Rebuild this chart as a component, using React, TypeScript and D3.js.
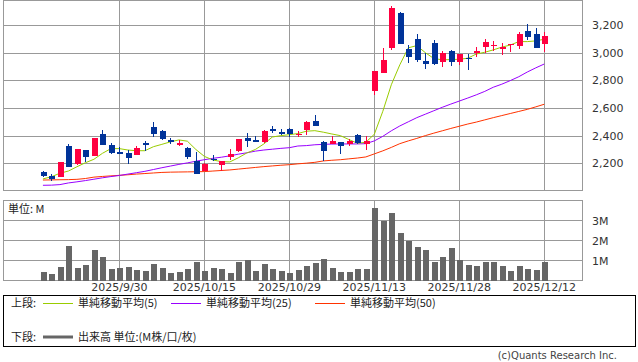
import * as d3 from "d3";

const dates = [
  "2025/9/16", "2025/9/17", "2025/9/18", "2025/9/19", "2025/9/22", "2025/9/24", "2025/9/25", "2025/9/26", "2025/9/29", "2025/9/30",
  "2025/10/1", "2025/10/2", "2025/10/3", "2025/10/6", "2025/10/7", "2025/10/8", "2025/10/9", "2025/10/10", "2025/10/14", "2025/10/15",
  "2025/10/16", "2025/10/17", "2025/10/20", "2025/10/21", "2025/10/22", "2025/10/23", "2025/10/24", "2025/10/27", "2025/10/28", "2025/10/29",
  "2025/10/30", "2025/10/31", "2025/11/4", "2025/11/5", "2025/11/6", "2025/11/7", "2025/11/10", "2025/11/11", "2025/11/12", "2025/11/13",
  "2025/11/14", "2025/11/17", "2025/11/18", "2025/11/19", "2025/11/20", "2025/11/21", "2025/11/25", "2025/11/26", "2025/11/27", "2025/11/28",
  "2025/12/1", "2025/12/2", "2025/12/3", "2025/12/4", "2025/12/5", "2025/12/8", "2025/12/9", "2025/12/10", "2025/12/11", "2025/12/12",
];

const open = [
  2137, 2106, 2103, 2325, 2192, 2296, 2255, 2412, 2335, 2284,
  2275, 2262, 2345, 2465, 2436, 2371, 2330, 2311, 2214, 2144,
  2233, 2187, 2248, 2291, 2385, 2371, 2357, 2451, 2426, 2448,
  2405, 2443, 2506, 2354, 2340, 2354, 2342, 2403, 2340, 2725,
  2853, 3032, 3289, 3029, 3099, 2940, 3070, 2935, 3012, 2935,
  2959, 2998, 3043, 3053, 3024, 3058, 3050, 3157, 3137, 3065,
];
const high = [
  2147, 2121, 2212, 2342, 2305, 2298, 2385, 2441, 2345, 2320,
  2298, 2323, 2360, 2499, 2441, 2385, 2369, 2320, 2282, 2199,
  2262, 2218, 2303, 2378, 2419, 2400, 2441, 2470, 2446, 2457,
  2434, 2508, 2549, 2359, 2397, 2356, 2374, 2410, 2395, 2869,
  3032, 3337, 3295, 3055, 3137, 3000, 3092, 3010, 3019, 2992,
  2990, 3041, 3099, 3087, 3070, 3065, 3149, 3207, 3178, 3149,
];
const low = [
  2101, 2070, 2098, 2171, 2190, 2207, 2250, 2333, 2265, 2265,
  2195, 2260, 2287, 2390, 2372, 2342, 2325, 2233, 2123, 2142,
  2214, 2144, 2224, 2283, 2320, 2355, 2345, 2422, 2407, 2390,
  2393, 2407, 2470, 2217, 2338, 2267, 2325, 2343, 2296, 2696,
  2850, 3019, 3063, 2923, 2930, 2884, 2913, 2899, 2906, 2913,
  2877, 2971, 3000, 3010, 2985, 3007, 3029, 3094, 3036, 3007,
];
const close = [
  2110, 2084, 2207, 2175, 2303, 2248, 2383, 2335, 2272, 2270,
  2238, 2313, 2330, 2412, 2374, 2352, 2347, 2248, 2125, 2197,
  2222, 2214, 2267, 2376, 2364, 2357, 2434, 2434, 2414, 2414,
  2412, 2499, 2472, 2291, 2361, 2327, 2361, 2345, 2359, 2867,
  2947, 3323, 3065, 2971, 2947, 2920, 2920, 2998, 2935, 2990,
  2952, 3012, 3077, 3058, 3041, 3065, 3137, 3116, 3036, 3120,
];

const ma5 = [
  2087, 2103, 2128, 2144, 2175, 2204, 2229, 2272, 2306, 2306,
  2296, 2291, 2291, 2320, 2337, 2355, 2369, 2360, 2300, 2250,
  2224, 2212, 2210, 2240, 2275, 2300, 2340, 2390, 2400, 2407,
  2415, 2432, 2436, 2425, 2412, 2400, 2372, 2345, 2352, 2410,
  2576, 2768, 2912, 3035, 3051, 3000, 2958, 2948, 2950, 2952,
  2960, 2990, 3003, 3020, 3040, 3055, 3080, 3080, 3085, 3097,
];
const ma25 = [
  2041, 2042, 2046, 2058, 2066, 2075, 2085, 2095, 2104, 2112,
  2122, 2132, 2142, 2155, 2168, 2180, 2192, 2203, 2215, 2226,
  2236, 2244, 2254, 2266, 2276, 2288, 2296, 2302, 2308, 2313,
  2325, 2328, 2334, 2337, 2339, 2340, 2340, 2340, 2342, 2362,
  2395, 2435, 2470, 2500, 2530, 2555, 2580, 2605, 2628, 2650,
  2672, 2695, 2720, 2750, 2772, 2798, 2826, 2860, 2890, 2918,
];
const ma50 = [
  2079, 2080, 2081, 2082, 2084, 2090, 2100, 2105, 2109, 2113,
  2117, 2122, 2126, 2130, 2134, 2136, 2137, 2138, 2139, 2140,
  2144, 2148, 2152, 2158, 2164, 2170, 2176, 2181, 2186, 2190,
  2196, 2201, 2207, 2217, 2222, 2226, 2232, 2238, 2246, 2268,
  2290, 2315, 2342, 2362, 2380, 2400, 2418, 2435, 2452, 2468,
  2484, 2498, 2514, 2530, 2545, 2560, 2575, 2590, 2608, 2627,
];

// volume in millions
const volume = [
  0.45, 0.35, 0.7, 1.75, 0.65, 0.8, 1.55, 1.2, 0.6, 0.65,
  0.7, 0.55, 0.5, 0.85, 0.65, 0.4, 0.45, 0.6, 0.95, 0.5,
  0.65, 0.6, 0.4, 0.95, 1.05, 0.5, 0.85, 0.6, 0.5, 0.4,
  0.55, 0.75, 0.9, 1.1, 0.65, 0.45, 0.45, 0.6, 0.6, 3.65,
  2.97, 3.4, 2.4, 1.97, 1.7, 1.55, 0.95, 1.2, 1.65, 1.05,
  0.8, 0.75, 0.95, 0.95, 0.75, 0.5, 0.75, 0.6, 0.55, 0.95,
];

const priceTicks = [2200, 2400, 2600, 2800, 3000, 3200];
const volumeTicks = [1, 2, 3];
const dateTicks = ["2025/9/30", "2025/10/15", "2025/10/29", "2025/11/13", "2025/11/28", "2025/12/12"];

const legendTop = [
  { label: "単純移動平均(5)", color: "#99cc00" },
  { label: "単純移動平均(25)", color: "#9900ff" },
  { label: "単純移動平均(50)", color: "#ff3300" },
];

const UP = "#ff0040";
const DOWN = "#003399";
const GRID = "#999999";
const NUM_FONT = "'DejaVu Sans', sans-serif";
const JP_FONT = "'Noto Sans CJK JP', sans-serif";

export default function App() {
  const width = 638;
  const height = 362;
  const left = 3.5;
  const right = 582.5;
  const pTop = 0.5;
  const pBottom = 190.5;
  const vTop = 200.5;
  const vBottom = 280.5;

  const idx = d3.range(dates.length);
  const x = d3.scaleLinear().domain([-4.64, 63.5]).range([left, right]);
  const y = d3.scaleLinear().domain([2200, 3200]).range([163.3, 25]);
  const yv = d3.scaleLinear().domain([0, 4]).range([vBottom, vTop]);

  const line = (vals: number[]) =>
    d3
      .line<number>()
      .x((i) => x(i))
      .y((i) => y(vals[i]))(idx) ?? "";

  const bodyW = 6;
  const volW = 6;

  return (
    <svg
      width={width}
      height={height}
      style={{ position: "absolute", left: 0, top: 0, background: "#fff" }}
    >
      {/* price panel grid */}
      <g shapeRendering="crispEdges" stroke={GRID} strokeWidth={1}>
        {priceTicks.map((t) => (
          <line key={t} x1={left} x2={right} y1={Math.round(y(t)) + 0.5} y2={Math.round(y(t)) + 0.5} />
        ))}
        {dateTicks.map((d) => {
          const xx = Math.round(x(dates.indexOf(d))) + 0.5;
          return (
            <g key={d}>
              <line x1={xx} x2={xx} y1={pTop} y2={pBottom} />
              <line x1={xx} x2={xx} y1={vTop} y2={vBottom} />
            </g>
          );
        })}
        {volumeTicks.map((t) => (
          <line key={t} x1={left} x2={right} y1={yv(t)} y2={yv(t)} />
        ))}
        <rect x={left} y={pTop} width={right - left} height={pBottom - pTop} fill="none" />
        <rect x={left} y={vTop} width={right - left} height={vBottom - vTop} fill="none" />
      </g>

      {/* moving averages */}
      <path d={line(ma50)} fill="none" stroke="#ff3300" strokeWidth={1} />
      <path d={line(ma25)} fill="none" stroke="#9900ff" strokeWidth={1} />
      <path d={line(ma5)} fill="none" stroke="#99cc00" strokeWidth={1} />

      {/* candles */}
      <g shapeRendering="crispEdges">
        {idx.map((i) => {
          const up = close[i] >= open[i];
          const c = up ? UP : DOWN;
          const cx = Math.round(x(i));
          const top = y(Math.max(open[i], close[i]));
          const bot = y(Math.min(open[i], close[i]));
          return (
            <g key={i}>
              <line x1={cx + 0.5} x2={cx + 0.5} y1={y(high[i])} y2={y(low[i])} stroke={c} />
              <rect x={cx - bodyW / 2 + 0.5} y={top} width={bodyW} height={Math.max(1, bot - top)} fill={c} />
            </g>
          );
        })}
      </g>

      {/* volume */}
      <g shapeRendering="crispEdges" fill="#666666">
        {idx.map((i) => (
          <rect key={i} x={Math.round(x(i)) - volW / 2 + 0.5} y={yv(volume[i])} width={volW} height={yv(0) - yv(volume[i])} />
        ))}
      </g>

      {/* axis labels */}
      <g fontFamily={NUM_FONT} fontSize={11} fill="#333">
        {priceTicks.map((t) => (
          <text key={t} x={592} y={y(t) + 4}>
            {d3.format(",")(t)}
          </text>
        ))}
        {volumeTicks.map((t) => (
          <text key={t} x={592} y={yv(t) + 4}>
            {t}M
          </text>
        ))}
        {dateTicks.map((d) => (
          <text key={d} x={x(dates.indexOf(d))} y={291} textAnchor="middle">
            {d}
          </text>
        ))}
      </g>
      <text x={8} y={213} fontFamily={JP_FONT} fontSize={11} fill="#222">
        単位: M
      </text>

      {/* legend */}
      <rect x={3.5} y={295.5} width={632} height={51} fill="none" stroke="#000" shapeRendering="crispEdges" />
      <g fontFamily={JP_FONT} fontSize={11} fill="#222">
        <text x={11} y={307}>上段:</text>
        {legendTop.map((l, k) => {
          const lx = [43, 171, 315][k];
          return (
            <g key={l.label}>
              <line x1={lx} x2={lx + 30} y1={303.5} y2={303.5} stroke={l.color} />
              <text x={lx + 35} y={307}>{l.label}</text>
            </g>
          );
        })}
        <text x={11} y={341}>下段:</text>
        <line x1={43} x2={73} y1={337} y2={337} stroke="#666" strokeWidth={3} />
        <text x={78} y={341}>出来高 単位:(M株/口/枚)</text>
      </g>
      <text x={617} y={359} textAnchor="end" fontFamily={NUM_FONT} fontSize={10} fill="#444">
        (c)Quants Research Inc.
      </text>
    </svg>
  );
}
